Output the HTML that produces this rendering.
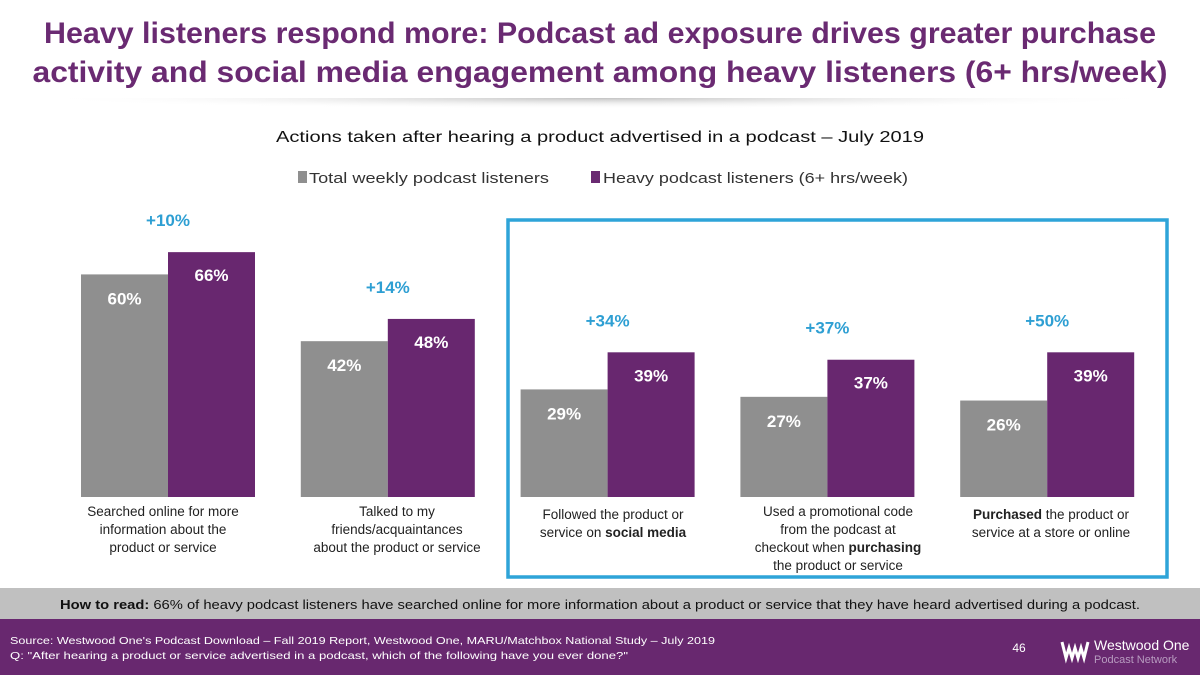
<!DOCTYPE html>
<html><head><meta charset="utf-8">
<style>
html,body{margin:0;padding:0;background:#fff;}
svg{display:block;font-family:"Liberation Sans",sans-serif;}
</style></head>
<body>
<svg id="chart" width="1200" height="675" viewBox="0 0 1200 675" xmlns="http://www.w3.org/2000/svg">
<defs>
<radialGradient id="shadowr" cx="0.5" cy="0" r="0.5">
<stop offset="0" stop-color="#999" stop-opacity="0.6"/>
<stop offset="1" stop-color="#fff" stop-opacity="0"/>
</radialGradient>
</defs>
<g fill="#6a2a72" font-weight="bold" font-size="30">
<text x="600" y="43" text-anchor="middle" textLength="1112" lengthAdjust="spacingAndGlyphs">Heavy listeners respond more: Podcast ad exposure drives greater purchase</text>
<text x="600" y="82" text-anchor="middle" textLength="1135" lengthAdjust="spacingAndGlyphs">activity and social media engagement among heavy listeners (6+ hrs/week)</text>
</g>
<rect x="30" y="98" width="1140" height="22" fill="url(#shadowr)"/>
<text x="600" y="142" text-anchor="middle" font-size="16" fill="#111" textLength="648" lengthAdjust="spacingAndGlyphs">Actions taken after hearing a product advertised in a podcast – July 2019</text>
<g font-size="15" fill="#333">
<rect x="298" y="171" width="9" height="12" fill="#8f8f8f"/>
<text x="309" y="183" textLength="240" lengthAdjust="spacingAndGlyphs">Total weekly podcast listeners</text>
<rect x="591" y="171" width="9" height="12" fill="#6a2a72"/>
<text x="603" y="183" textLength="305" lengthAdjust="spacingAndGlyphs">Heavy podcast listeners (6+ hrs/week)</text>
</g>
<rect x="508" y="220" width="659" height="357" fill="none" stroke="#2ea4d8" stroke-width="3.5"/>
<g id="bars"></g>
<g font-size="13.5" fill="#222" text-anchor="middle">
<text x="163" y="516">Searched online for more</text>
<text x="163" y="534">information about the</text>
<text x="163" y="552">product or service</text>
<text x="397" y="516">Talked to my</text>
<text x="397" y="534">friends/acquaintances</text>
<text x="397" y="552">about the product or service</text>
<text x="613" y="519">Followed the product or</text>
<text x="613" y="537">service on <tspan font-weight="bold">social media</tspan></text>
<text x="838" y="516">Used a promotional code</text>
<text x="838" y="534">from the podcast at</text>
<text x="838" y="552">checkout when <tspan font-weight="bold">purchasing</tspan></text>
<text x="838" y="570">the product or service</text>
<text x="1051" y="519"><tspan font-weight="bold">Purchased</tspan> the product or</text>
<text x="1051" y="537">service at a store or online</text>
</g>
<rect x="0" y="588" width="1200" height="31" fill="#c0c0c0"/>
<text x="600" y="609" text-anchor="middle" font-size="12.5" fill="#111" textLength="1080" lengthAdjust="spacingAndGlyphs"><tspan font-weight="bold">How to read:</tspan> 66% of heavy podcast listeners have searched online for more information about a product or service that they have heard advertised during a podcast.</text>
<rect x="0" y="619" width="1200" height="56" fill="#68286f"/>
<g font-size="10.5" fill="#fff">
<text x="10" y="644" textLength="705" lengthAdjust="spacingAndGlyphs">Source: Westwood One's Podcast Download – Fall 2019 Report, Westwood One, MARU/Matchbox National Study – July 2019</text>
<text x="10" y="659" textLength="618" lengthAdjust="spacingAndGlyphs">Q: "After hearing a product or service advertised in a podcast, which of the following have you ever done?"</text>
</g>
<text x="1019" y="652" text-anchor="middle" font-size="12" fill="#fff">46</text>
<g>
<path d="M1062 642 l4 16 l3 -10 l3 10 l3 -10 l3 10 l3 -10 l3 10 l4 -16" fill="none" stroke="#fff" stroke-width="3"/>
<text x="1094" y="650" font-size="14" fill="#fff">Westwood One</text>
<text x="1094" y="663" font-size="11" fill="#b89cc0">Podcast Network</text>
</g>
</svg>
<script>
const categories = ["Searched online", "Talked to friends", "Followed on social media", "Used promo code", "Purchased"];
const totalValues = [60, 42, 29, 27, 26];
const heavyValues = [66, 48, 39, 37, 39];
const liftLabels = ["+10%", "+14%", "+34%", "+37%", "+50%"];

const NS = "http://www.w3.org/2000/svg";
const g = document.getElementById("bars");
const baseY = 497, pxPer = 3.71;
function yScale(v){ return baseY - v * pxPer; }
function groupCenter(i){ return 168 + i * 219.8; }
const bw = 87;
function mk(tag, attrs){ const e = document.createElementNS(NS, tag); for (const k in attrs) e.setAttribute(k, attrs[k]); g.appendChild(e); return e; }
categories.forEach((c, i) => {
  const cx = groupCenter(i);
  const yt = yScale(totalValues[i]), yh = yScale(heavyValues[i]);
  const r1 = mk("rect", {x: cx - bw, y: yt, width: bw, height: baseY - yt, fill: "#8f8f8f"});
  
  
  const r2 = mk("rect", {x: cx, y: yh, width: bw, height: baseY - yh, fill: "#68276f"});
  
  
  const t1 = mk("text", {x: cx - bw/2, y: yt + 30, "text-anchor": "middle", "font-size": "17", "font-weight": "bold", fill: "#fff"});
  t1.textContent = totalValues[i] + "%";
  
  
  const t2 = mk("text", {x: cx + bw/2, y: yh + 29, "text-anchor": "middle", "font-size": "17", "font-weight": "bold", fill: "#fff"});
  t2.textContent = heavyValues[i] + "%";
  
  
  const t3 = mk("text", {x: cx, y: yh - 26, "text-anchor": "middle", "font-size": "17", "font-weight": "bold", fill: "#2e9fd3"});
  t3.textContent = liftLabels[i];
  
  
});
</script>
</body></html>
